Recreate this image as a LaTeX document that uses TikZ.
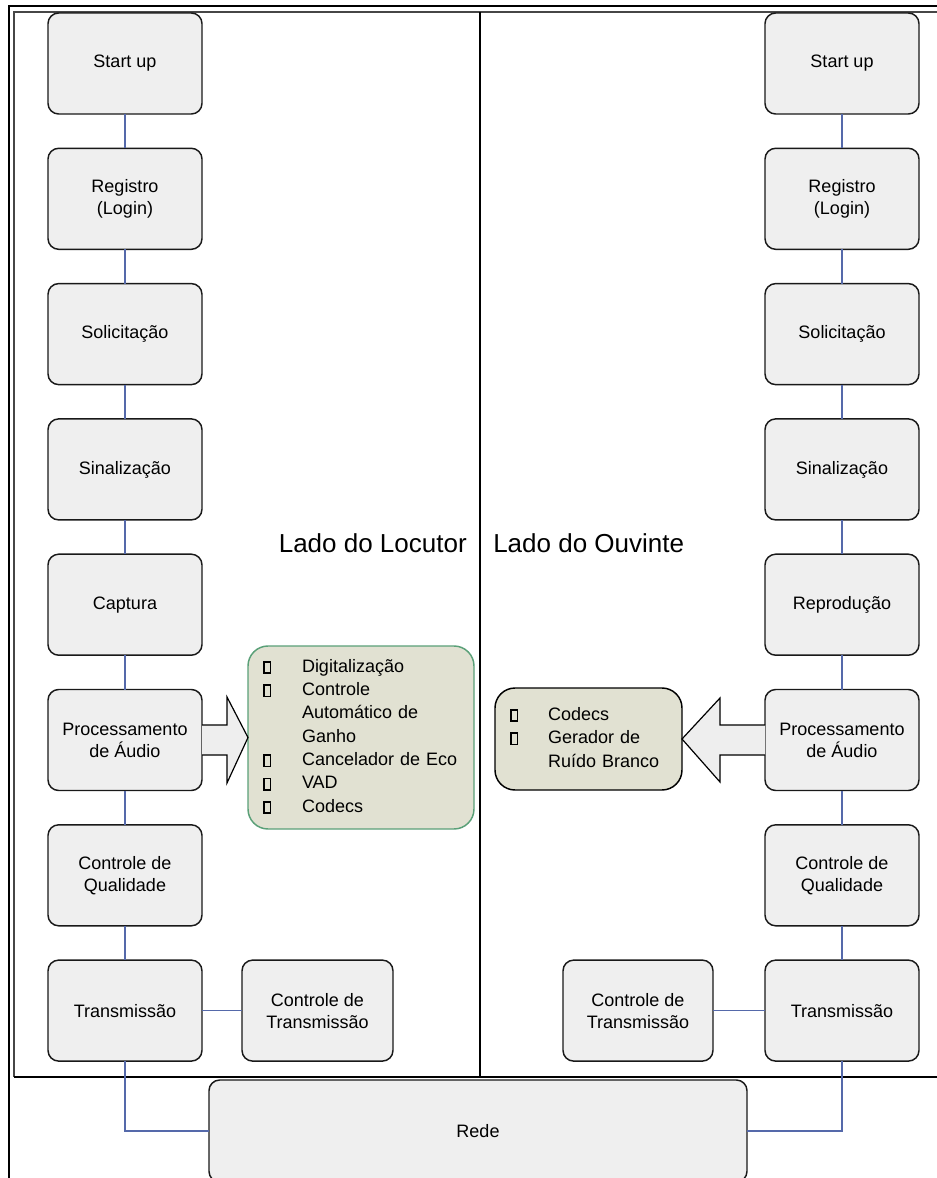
\documentclass[tikz,border=0pt]{standalone}
\usepackage{fontspec}
\setmainfont{Liberation Sans}
\usetikzlibrary{calc}
\definecolor{boxfill}{RGB}{239,239,239}
\definecolor{arrfill}{RGB}{238,238,238}
\definecolor{beige}{RGB}{225,225,210}
\definecolor{greenedge}{RGB}{90,160,120}
\definecolor{linkblue}{RGB}{85,105,170}
\definecolor{innerline}{RGB}{70,70,70}
\newcommand\sqb{{\setlength\fboxsep{0pt}\setlength\fboxrule{1.3pt}\fbox{\hbox to 3.6pt{\rule{0pt}{7.2pt}\hfil}}}}
\begin{document}
\begin{tikzpicture}[x=0.75pt,y=-0.75pt,
  stepbox/.style={draw=black!90,line width=1.1pt,fill=boxfill,rounded corners=8pt,
    minimum width=115.5pt,minimum height=75.75pt,inner sep=2pt,outer sep=0pt,align=center,
    font=\fontsize{13.5}{16.5}\selectfont},
  conn/.style={draw=linkblue,line width=0.9pt},
  blockarrow/.style={draw=black,line width=0.9pt,fill=arrfill,line join=miter},
  listbox/.style={line width=1.1pt,rounded corners=15pt,outer sep=0pt,inner xsep=11.25pt,inner ysep=0pt,
    align=left,font=\fontsize{13.5}{17.5}\selectfont},
  sidelabel/.style={font=\fontsize{19.5}{22}\selectfont,inner sep=0pt}
]
\useasboundingbox (0,0) rectangle (936,1178);
\fill[white] (0,0) rectangle (936,1178);

% frames
\draw[line width=1.6pt,black] (9,1190) -- (9,6) -- (940,6);
\draw[line width=1.5pt,innerline] (940,12) -- (14,12) -- (14,1077);
\draw[line width=1.2pt,black] (14,1077) -- (940,1077);
\draw[line width=2.1pt,black] (480,12) -- (480,1077);

% side labels
\node[sidelabel,anchor=east] (llab) at (467,543) {Lado do Locutor};
\node[sidelabel,anchor=west] (rlab) at (493,543) {Lado do Ouvinte};

% left column
\node[stepbox] (l1) at (125,63.5) {Start up};
\node[stepbox] (l2) at (125,198.8) {Registro\\(Login)};
\node[stepbox] (l3) at (125,334.1) {Solicitação};
\node[stepbox] (l4) at (125,469.4) {Sinalização};
\node[stepbox] (l5) at (125,604.7) {Captura};
\node[stepbox] (l6) at (125,740) {Processamento\\de Áudio};
\node[stepbox] (l7) at (125,875.3) {Controle de\\Qualidade};
\node[stepbox] (l8) at (125,1010.6) {Transmissão};
\node[stepbox,minimum width=113.25pt] (lct) at (317.5,1010.6) {Controle de\\Transmissão};

% right column
\node[stepbox] (r1) at (842,63.5) {Start up};
\node[stepbox] (r2) at (842,198.8) {Registro\\(Login)};
\node[stepbox] (r3) at (842,334.1) {Solicitação};
\node[stepbox] (r4) at (842,469.4) {Sinalização};
\node[stepbox] (r5) at (842,604.7) {Reprodução};
\node[stepbox] (r6) at (842,740) {Processamento\\de Áudio};
\node[stepbox] (r7) at (842,875.3) {Controle de\\Qualidade};
\node[stepbox] (r8) at (842,1010.6) {Transmissão};
\node[stepbox,minimum width=112.5pt] (rct) at (638,1010.6) {Controle de\\Transmissão};

% network
\node[stepbox,minimum width=403.5pt,minimum height=76.5pt] (rede) at (478,1131) {Rede};

% list boxes
\node[listbox,draw=greenedge,fill=beige,minimum width=169.5pt,minimum height=137.25pt,text width=147pt] (gbox) at (361,737.5)
  {\begin{tabular}{@{}p{29.25pt}@{}l@{}}
   \sqb & Digitalização\\
   \sqb & Controle\\
        & Automático de\\
        & Ganho\\
   \sqb & Cancelador de Eco\\
   \sqb & VAD\\
   \sqb & Codecs
   \end{tabular}};
\node[listbox,draw=black,fill=beige,minimum width=140.25pt,minimum height=76.5pt,text width=117.75pt] (bbox) at (588.5,739)
  {\begin{tabular}{@{}p{28.5pt}@{}l@{}}
   \sqb & Codecs\\
   \sqb & Gerador de\\
        & Ruído Branco
   \end{tabular}};

% vertical connectors
\foreach \a/\b in {1/2,2/3,3/4,4/5,5/6,6/7,7/8}{
  \draw[conn] (l\a.south) -- (l\b.north);
  \draw[conn] (r\a.south) -- (r\b.north);
}
\draw[conn] (l8.east) -- (lct.west);
\draw[conn] (rct.east) -- (r8.west);
\draw[conn] (l8.south) |- (rede.west);
\draw[conn] (r8.south) |- (rede.east);

% block arrows
\filldraw[blockarrow] ($(l6.east)+(0,-15)$) -- ($(l6.east)+(25,-15)$) -- ($(l6.east)+(25,-43)$)
  -- (gbox.west) -- ($(l6.east)+(25,43)$) -- ($(l6.east)+(25,15)$) -- ($(l6.east)+(0,15)$);
\filldraw[blockarrow] ($(r6.west)+(0,-15)$) -- ($(r6.west)+(-45,-15)$) -- ($(r6.west)+(-45,-42)$)
  -- (bbox.east) -- ($(r6.west)+(-45,42)$) -- ($(r6.west)+(-45,15)$) -- ($(r6.west)+(0,15)$);
\end{tikzpicture}
\end{document}
